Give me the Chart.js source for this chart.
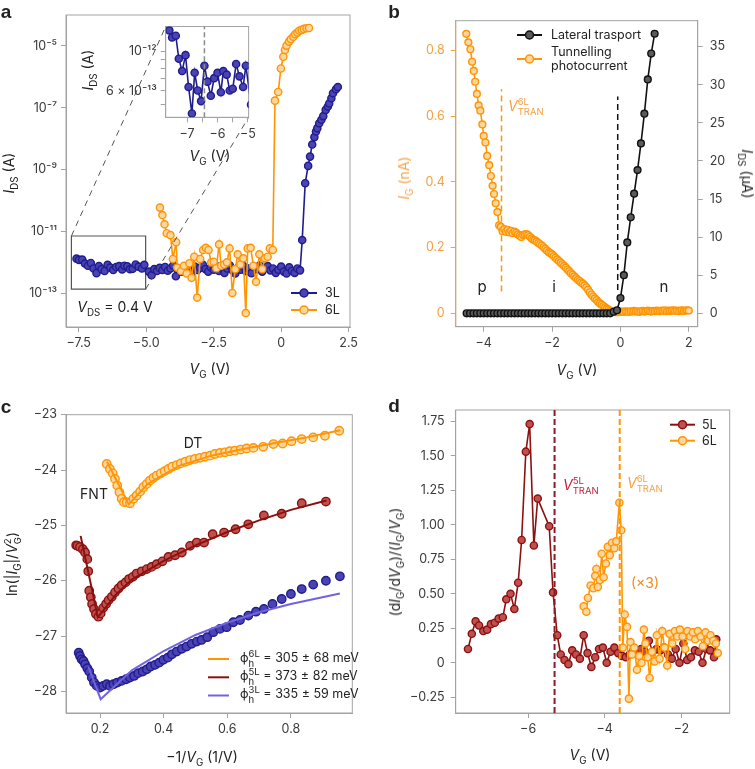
<!DOCTYPE html>
<html>
<head>
<meta charset="utf-8">
<title>Tunnelling photocurrent</title>
<script src="https://cdn.jsdelivr.net/npm/chart.js@4.4.1/dist/chart.umd.min.js"></script>
<style>
  body { margin: 0; background: #fff; }
  #fig { position: relative; width: 755px; height: 769px; overflow: hidden;
         font-family: Inter, "Noto Sans", sans-serif; color: #222; }
  #fig canvas { position: absolute; }
  .t { position: absolute; white-space: nowrap; line-height: 1; font-size: 14px; transform: translate(-50%, -50%); }
  .l { transform: translate(0, -50%); }
  .rot { transform: translate(-50%, -50%) rotate(-90deg); }
  .rotr { transform: translate(-50%, -50%) rotate(90deg); }
  .pl { font: bold 19px "Liberation Sans", Arial, sans-serif; }
  .sm { font-size: 12.5px; }
  sub, sup { font-size: 70%; line-height: 0; }
  .ss { display: inline-block; vertical-align: middle; font-size: 9.5px; line-height: 1.05; text-align: left; font-style: normal; }
</style>
</head>
<body>
<div id="fig">
  <canvas id="pa" width="377" height="384" style="left:0;top:0"></canvas>
  <canvas id="pin" width="160" height="130" style="left:100px;top:15px"></canvas>
  <canvas id="pb" width="378" height="384" style="left:377px;top:0"></canvas>
  <canvas id="pc" width="377" height="385" style="left:0;top:384px"></canvas>
  <canvas id="pd" width="378" height="385" style="left:377px;top:384px"></canvas>

  <div class="t pl" style="left:6px;top:12px">a</div>
  <div class="t pl" style="left:394px;top:12px">b</div>
  <div class="t pl" style="left:6px;top:407px">c</div>
  <div class="t pl" style="left:394px;top:406px">d</div>

  <!-- panel a -->
  <div class="t rot" style="left:9px;top:173px"><i>I</i><sub>DS</sub> (A)</div>
  <div class="t" style="left:210px;top:369px"><i>V</i><sub>G</sub> (V)</div>
  <div class="t rot" style="left:88px;top:70px"><i>I</i><sub>DS</sub> (A)</div>
  <div class="t" style="left:210px;top:156px"><i>V</i><sub>G</sub> (V)</div>
  <div class="t" style="left:115px;top:307px"><i>V</i><sub>DS</sub> = 0.4 V</div>
  <div class="t l sm" style="left:325px;top:293px">3L</div>
  <div class="t l sm" style="left:325px;top:310px">6L</div>

  <!-- panel b -->
  <div class="t rot" style="left:404px;top:178px;color:#f5a142"><i>I</i><sub>G</sub> (nA)</div>
  <div class="t rotr" style="left:747px;top:174px"><i>I</i><sub>DS</sub> (μA)</div>
  <div class="t" style="left:577px;top:370px"><i>V</i><sub>G</sub> (V)</div>
  <div class="t l sm" style="left:551px;top:35px">Lateral trasport</div>
  <div class="t l sm" style="left:551px;top:52px">Tunnelling</div>
  <div class="t l sm" style="left:551px;top:66px">photocurrent</div>
  <div class="t l" style="left:508px;top:107px;color:#f5a142"><i>V</i><span class="ss">6L<br>TRAN</span></div>
  <div class="t" style="left:482px;top:286px;font-size:15px">p</div>
  <div class="t" style="left:554px;top:286px;font-size:15px">i</div>
  <div class="t" style="left:664px;top:286px;font-size:15px">n</div>

  <!-- panel c -->
  <div class="t rot" style="left:13px;top:564px">ln(|<i>I</i><sub>G</sub>|/<i>V</i><span class="ss">2<br>G</span>)</div>
  <div class="t" style="left:202px;top:757px">−1/<i>V</i><sub>G</sub> (1/V)</div>
  <div class="t" style="left:193px;top:443px">DT</div>
  <div class="t" style="left:94px;top:494px">FNT</div>
  <div class="t l sm" style="left:240px;top:659px">ϕ<span class="ss">6L<br>h</span> = 305 ± 68 meV</div>
  <div class="t l sm" style="left:240px;top:677px">ϕ<span class="ss">5L<br>h</span> = 373 ± 82 meV</div>
  <div class="t l sm" style="left:240px;top:695px">ϕ<span class="ss">3L<br>h</span> = 335 ± 59 meV</div>

  <!-- panel d -->
  <div class="t rot" style="left:395px;top:562px">(d<i>I</i><sub>G</sub>/d<i>V</i><sub>G</sub>)/(<i>I</i><sub>G</sub>/<i>V</i><sub>G</sub>)</div>
  <div class="t" style="left:590px;top:755px"><i>V</i><sub>G</sub> (V)</div>
  <div class="t l" style="left:563px;top:486px;color:#c41e3a"><i>V</i><span class="ss">5L<br>TRAN</span></div>
  <div class="t l" style="left:627px;top:484px;color:#f5a142"><i>V</i><span class="ss">6L<br>TRAN</span></div>
  <div class="t" style="left:645px;top:583px;color:#f08a24">(×3)</div>
  <div class="t l sm" style="left:702px;top:425px">5L</div>
  <div class="t l sm" style="left:702px;top:441px">6L</div>
</div>

<script>
// ---------- panel a: transfer curves, log10 of I_DS in A ----------
const vgA3L = [-7.58, -7.49, -7.37, -7.27, -7.16, -7.05, -6.95, -6.84, -6.75, -6.65, -6.54, -6.43, -6.33, -6.22, -6.11,
  -6.00, -5.89, -5.81, -5.70, -5.60, -5.50, -5.39, -5.28, -5.16, -5.07,
  -4.9, -4.8, -4.7, -4.6, -4.5, -4.4, -4.3, -4.2, -4.1, -4.0, -3.9, -3.8, -3.7, -3.6, -3.5, -3.4, -3.3, -3.2, -3.1, -3.0,
  -2.9, -2.8, -2.7, -2.6, -2.5, -2.4, -2.3, -2.2, -2.1, -2.0, -1.9, -1.8, -1.7, -1.6, -1.5, -1.4, -1.3, -1.2, -1.1, -1.0,
  -0.9, -0.8, -0.7, -0.6, -0.5, -0.4, -0.3, -0.2, -0.1, 0.0, 0.1, 0.2, 0.3, 0.4, 0.5, 0.6, 0.7,
  0.78, 0.89, 1.00, 1.07, 1.15, 1.23, 1.29, 1.34, 1.41, 1.49, 1.56, 1.65, 1.73, 1.78, 1.86, 1.92, 2.03, 2.10];
const logIdsA3L = [-11.88, -11.92, -11.91, -12.04, -12.11, -12.02, -12.20, -12.35, -12.12, -12.22, -12.28, -12.08, -12.17, -12.25, -12.15,
  -12.12, -12.23, -12.11, -12.13, -12.22, -12.21, -12.07, -12.14, -12.20, -12.08,
  -12.30, -12.42, -12.22, -12.28, -12.18, -12.25, -12.15, -12.27, -12.20, -12.10, -12.45, -12.22, -12.30, -12.15, -12.26, -12.20, -12.32, -12.14, -12.25, -12.18,
  -12.08, -12.22, -12.30, -12.16, -12.24, -12.12, -12.28, -12.19, -12.34, -12.20, -12.10, -12.26, -12.36, -12.18, -12.24, -12.12, -12.29, -12.20, -12.35, -12.15,
  -12.22, -12.10, -12.30, -12.18, -12.12, -12.26, -12.20, -12.34, -12.24, -12.14, -12.30, -12.36, -12.16, -12.28, -12.34, -12.20, -12.26,
  -11.28, -9.44, -8.88, -8.58, -8.19, -7.95, -7.77, -7.66, -7.50, -7.39, -7.27, -7.07, -6.96, -6.86, -6.69, -6.53, -6.40, -6.33];
const vgA6L = [-4.49, -4.40, -4.32, -4.24, -4.10, -4.01, -3.89, -3.85, -3.71, -3.60, -3.50, -3.40, -3.32, -3.22, -3.11,
  -3.00, -2.89, -2.79, -2.69, -2.59, -2.50, -2.40, -2.30, -2.22, -2.11, -2.01,
  -1.91, -1.81, -1.70, -1.61, -1.51, -1.40, -1.31, -1.24, -1.13, -1.03,
  -0.93, -0.81, -0.70, -0.60, -0.50, -0.42, -0.31,
  -0.23, -0.11, -0.01, 0.08, 0.14, 0.20, 0.29, 0.36, 0.45, 0.52, 0.60, 0.67, 0.76, 0.84, 0.94, 1.03];
const logIdsA6L = [-10.23, -10.47, -10.77, -11.06, -11.12, -11.89, -11.35, -12.17, -12.28, -12.11, -12.36, -12.03, -12.50, -11.82, -13.14,
  -11.89, -11.60, -11.53, -11.60, -12.00, -11.98, -12.19, -11.42, -12.11, -12.07, -12.00,
  -11.55, -12.99, -12.22, -11.74, -12.07, -11.87, -13.64, -11.55, -11.53, -12.11,
  -12.63, -11.74, -12.22, -11.87, -11.82, -11.55, -11.60,
  -6.77, -6.49, -5.73, -5.35, -5.13, -4.99, -4.86, -4.78, -4.70, -4.62, -4.57, -4.51, -4.48, -4.45, -4.43, -4.42];
const zoomVg = [-7.77, -5.02];        // zoomed window shown in the inset
const zoomIds = [7.1e-12, 1.35e-13];
const insetMarkVg = -6.43;

// ---------- panel b: lateral transport (µA) and tunnelling photocurrent (nA) ----------
const vgLat = [-4.5, -4.4, -4.3, -4.2, -4.1, -4.0, -3.9, -3.8, -3.7, -3.6, -3.5, -3.4, -3.3, -3.2, -3.1, -3.0, -2.9, -2.8, -2.7, -2.6,
  -2.5, -2.4, -2.3, -2.2, -2.1, -2.0, -1.9, -1.8, -1.7, -1.6, -1.5, -1.4, -1.3, -1.2, -1.1, -1.0, -0.9, -0.8, -0.7, -0.6,
  -0.5, -0.4, -0.3, -0.2, -0.1, 0.0, 0.1, 0.2, 0.3, 0.4, 0.5, 0.6, 0.7, 0.8, 0.9, 1.0];
const idsLat = [0, 0, 0, 0, 0, 0, 0, 0, 0, 0, 0, 0, 0, 0, 0, 0, 0, 0, 0, 0,
  0, 0, 0, 0, 0, 0, 0, 0, 0, 0, 0, 0, 0, 0, 0, 0, 0, 0, 0, 0,
  0, 0, 0, 0.2, 0.4, 2.0, 5.0, 9.3, 12.6, 15.7, 18.8, 22.3, 26.2, 30.7, 34.1, 36.7];
const vgTun = [-4.51, -4.45, -4.39, -4.34, -4.29, -4.25, -4.20, -4.15, -4.10, -4.04, -4.00, -3.95, -3.90, -3.84, -3.79, -3.74, -3.70, -3.65, -3.60, -3.55, -3.50,
  -3.45, -3.40, -3.35, -3.30, -3.25, -3.20, -3.15, -3.10, -3.05, -3.00, -2.95, -2.90, -2.85, -2.80, -2.75, -2.70, -2.65, -2.60, -2.55, -2.50,
  -2.45, -2.40, -2.35, -2.30, -2.25, -2.20, -2.15, -2.10, -2.05, -2.00, -1.95, -1.90, -1.85, -1.80, -1.75, -1.70, -1.65, -1.60, -1.55, -1.50,
  -1.45, -1.40, -1.35, -1.30, -1.25, -1.20, -1.15, -1.10, -1.05, -1.00, -0.95, -0.90, -0.85, -0.80, -0.75, -0.70, -0.65, -0.60, -0.55, -0.50,
  -0.45, -0.40, -0.35, -0.30, -0.25, -0.20, -0.15, -0.10, -0.05, 0.00, 0.05, 0.10, 0.15, 0.20, 0.25, 0.30, 0.35, 0.40, 0.45, 0.50,
  0.55, 0.60, 0.65, 0.70, 0.75, 0.80, 0.85, 0.90, 0.95, 1.00, 1.05, 1.10, 1.15, 1.20, 1.25, 1.30, 1.35, 1.40, 1.45, 1.50,
  1.55, 1.60, 1.65, 1.70, 1.75, 1.80, 1.85, 1.90, 1.95, 2.00];
const igTun = [0.851, 0.825, 0.804, 0.766, 0.738, 0.705, 0.668, 0.633, 0.617, 0.575, 0.540, 0.520, 0.479, 0.451, 0.418, 0.388, 0.363, 0.335, 0.308, 0.268, 0.263,
  0.250, 0.256, 0.248, 0.254, 0.246, 0.251, 0.244, 0.249, 0.245, 0.240, 0.236, 0.232, 0.238, 0.240, 0.241, 0.238, 0.233, 0.228, 0.224, 0.222,
  0.218, 0.214, 0.210, 0.206, 0.201, 0.196, 0.191, 0.186, 0.183, 0.179, 0.174, 0.169, 0.164, 0.159, 0.154, 0.149, 0.144, 0.139, 0.133, 0.128,
  0.122, 0.117, 0.112, 0.107, 0.102, 0.098, 0.094, 0.090, 0.085, 0.079, 0.072, 0.064, 0.057, 0.051, 0.045, 0.040, 0.034, 0.030, 0.026, 0.022,
  0.018, 0.014, 0.011, 0.008, 0.006, 0.004, 0.003, 0.003, 0.003, 0.004, 0.005, 0.004, 0.006, 0.005, 0.004, 0.006, 0.005, 0.007, 0.005, 0.006,
  0.004, 0.006, 0.007, 0.005, 0.006, 0.008, 0.006, 0.005, 0.007, 0.006, 0.008, 0.007, 0.006, 0.008, 0.007, 0.009, 0.006, 0.008, 0.007, 0.008,
  0.009, 0.007, 0.008, 0.006, 0.008, 0.009, 0.007, 0.008, 0.009, 0.008];
const vTran6Lb = -3.48;
const vOnset = -0.08;

// ---------- panel c: ln(|I_G|/V_G^2) against -1/V_G ----------
const invV6L = [0.221, 0.231, 0.240, 0.247, 0.254, 0.261, 0.268, 0.275, 0.284, 0.294, 0.305, 0.315, 0.326, 0.336, 0.347, 0.357, 0.368, 0.378, 0.391, 0.403,
  0.415, 0.427, 0.441, 0.454, 0.468, 0.483, 0.498, 0.514, 0.530, 0.546, 0.561, 0.577, 0.593, 0.608, 0.624, 0.642, 0.661, 0.682, 0.713, 0.745,
  0.774, 0.802, 0.834, 0.870, 0.907, 0.952];
const ln6L = [-23.89, -23.98, -24.06, -24.16, -24.28, -24.40, -24.52, -24.58, -24.58, -24.60, -24.52, -24.46, -24.39, -24.31, -24.25, -24.19, -24.14, -24.10, -24.06, -24.02,
  -23.98, -23.94, -23.91, -23.88, -23.85, -23.82, -23.80, -23.78, -23.76, -23.74, -23.71, -23.69, -23.68, -23.66, -23.65, -23.63, -23.61, -23.60, -23.58, -23.53,
  -23.52, -23.48, -23.44, -23.41, -23.38, -23.29];
const invV5L = [0.125, 0.129, 0.137, 0.146, 0.153, 0.160, 0.163, 0.166, 0.171, 0.175, 0.181, 0.187, 0.195, 0.202, 0.210, 0.219, 0.227, 0.237, 0.247, 0.258,
  0.268, 0.280, 0.291, 0.303, 0.315, 0.331, 0.347, 0.362, 0.378, 0.396, 0.415, 0.436, 0.457, 0.483, 0.504, 0.527, 0.554, 0.590, 0.626, 0.666,
  0.715, 0.771, 0.834, 0.910];
const ln5L = [-25.36, -25.37, -25.39, -25.43, -25.49, -25.61, -25.83, -26.18, -26.30, -26.42, -26.51, -26.60, -26.65, -26.59, -26.49, -26.42, -26.35, -26.29, -26.21, -26.14,
  -26.08, -26.03, -25.97, -25.93, -25.87, -25.83, -25.79, -25.75, -25.70, -25.65, -25.57, -25.54, -25.49, -25.37, -25.31, -25.31, -25.16, -25.13, -25.07, -24.98,
  -24.82, -24.79, -24.60, -24.57];
const invV3L = [0.133, 0.137, 0.142, 0.148, 0.153, 0.160, 0.166, 0.174, 0.181, 0.190, 0.200, 0.210, 0.221, 0.231, 0.242, 0.254, 0.268, 0.282, 0.294, 0.307,
  0.320, 0.334, 0.347, 0.359, 0.373, 0.386, 0.399, 0.413, 0.426, 0.441, 0.457, 0.472, 0.488, 0.504, 0.519, 0.537, 0.556, 0.577, 0.598, 0.619,
  0.640, 0.666, 0.690, 0.715, 0.742, 0.771, 0.800, 0.834, 0.870, 0.910, 0.954];
const ln3L = [-27.30, -27.36, -27.42, -27.45, -27.51, -27.58, -27.64, -27.75, -27.84, -27.90, -27.93, -27.90, -27.87, -27.90, -27.87, -27.84, -27.81, -27.78, -27.75, -27.72,
  -27.67, -27.64, -27.60, -27.55, -27.52, -27.48, -27.43, -27.39, -27.33, -27.28, -27.23, -27.19, -27.14, -27.10, -27.07, -27.02, -26.93, -26.87, -26.84, -26.75,
  -26.71, -26.63, -26.56, -26.51, -26.42, -26.33, -26.24, -26.15, -26.07, -26.00, -25.92];
const fit6LX = [0.222, 0.290, 0.350, 0.450, 0.550, 0.650, 0.750, 0.850, 0.955];
const fit6LY = [-23.85, -24.62, -24.25, -23.92, -23.74, -23.62, -23.51, -23.41, -23.28];
const fit5LX = [0.139, 0.193, 0.250, 0.300, 0.400, 0.500, 0.600, 0.700, 0.800, 0.912];
const fit5LY = [-25.19, -26.66, -26.25, -25.98, -25.64, -25.36, -25.12, -24.91, -24.72, -24.55];
const fit3LX = [0.163, 0.202, 0.300, 0.400, 0.500, 0.600, 0.700, 0.800, 0.954];
const fit3LY = [-27.55, -28.14, -27.62, -27.27, -26.98, -26.76, -26.57, -26.42, -26.23];

// ---------- panel d: (dI_G/dV_G)/(I_G/V_G) ----------
const vg5L = [-7.57, -7.47, -7.37, -7.28, -7.17, -7.07, -6.97, -6.87, -6.77, -6.66, -6.57, -6.46, -6.36, -6.26, -6.17, -6.06, -5.96, -5.85, -5.75, -5.45,
  -5.35, -5.24, -5.15, -5.05, -4.95, -4.85, -4.75, -4.65, -4.55, -4.45, -4.35, -4.25, -4.15, -4.05, -3.95, -3.85, -3.75, -3.65, -3.55, -3.45,
  -3.35, -3.25, -3.15, -3.05, -2.95, -2.85, -2.75, -2.65, -2.55, -2.45, -2.35, -2.25, -2.15, -2.05, -1.95, -1.85, -1.75, -1.65, -1.55, -1.45,
  -1.35, -1.25, -1.15, -1.09];
const ratio5L = [0.10, 0.21, 0.30, 0.27, 0.23, 0.24, 0.28, 0.29, 0.32, 0.33, 0.46, 0.50, 0.39, 0.58, 0.89, 1.53, 1.73, 0.85, 1.19, 0.99,
  0.51, 0.20, 0.06, 0.02, -0.01, 0.09, 0.06, 0.03, 0.20, 0.07, -0.03, 0.04, 0.10, 0.11, 0.00, 0.08, 0.11, 0.07, 0.05, 0.04,
  0.06, 0.09, 0.07, 0.10, 0.08, 0.16, 0.08, 0.10, 0.09, 0.11, 0.06, 0.03, 0.10, 0.00, 0.14, 0.02, 0.04, 0.09, 0.08, 0.00,
  0.10, 0.09, 0.04, 0.17];
const vg6L = [-4.55, -4.48, -4.44, -4.37, -4.30, -4.25, -4.22, -4.18, -4.13, -4.08, -4.03, -3.97, -3.92, -3.87, -3.81, -3.75, -3.70, -3.62, -3.57, -3.53,
  -3.48, -3.42, -3.37, -3.33, -3.29, -3.23, -3.16, -3.10, -3.04, -2.98, -2.94, -2.88, -2.83, -2.77, -2.70, -2.64, -2.57, -2.50, -2.44, -2.37,
  -2.31, -2.24, -2.17, -2.11, -2.04, -1.97, -1.90, -1.84, -1.77, -1.70, -1.64, -1.57, -1.50, -1.44, -1.37, -1.30, -1.24, -1.17, -1.10, -1.05];
const ratio6L = [0.41, 0.37, 0.47, 0.56, 0.54, 0.63, 0.68, 0.55, 0.60, 0.79, 0.62, 0.72, 0.84, 0.78, 0.87, 0.83, 0.88, 1.16, 0.96, 0.11,
  0.35, 0.26, -0.26, 0.15, 0.06, 0.11, -0.05, 0.05, 0.00, 0.24, 0.14, 0.04, -0.11, 0.08, 0.01, 0.20, 0.03, 0.23, 0.11, -0.02,
  0.21, 0.14, 0.23, 0.19, 0.24, 0.19, 0.10, 0.23, 0.19, 0.22, 0.17, 0.23, 0.19, 0.12, 0.22, 0.16, 0.20, 0.16, 0.14, 0.07];
const vTran5L = -5.31;
const vTran6L = -3.61;

// ---------- styling ----------
const FRAME = '#a3a3a3';
const INK = '#3a3a3a';
const ORANGE = '#ff9500', PEACH = '#fcd6a0', ORANGE_TXT = '#f5a142';
const NAVY = '#1f1c8c', BLUE = '#4a43b6';
const DRED = '#8b1111', RED = '#c0504d';
const FITBLUE = '#7262e0';

Chart.defaults.font.family = 'Inter, "Noto Sans", sans-serif';
Chart.defaults.font.size = 12.5;
Chart.defaults.color = INK;
Chart.defaults.animation = false;
Chart.defaults.events = [];
Chart.defaults.plugins.legend.display = false;
Chart.defaults.plugins.tooltip.enabled = false;

const pts = (xs, ys) => xs.map((x, i) => ({ x, y: ys[i] }));

function axis(o) {
  return {
    type: o.type || 'linear', position: o.pos, min: o.min, max: o.max,
    afterBuildTicks: s => { s.ticks = o.ticks.map(v => ({ value: v })); },
    afterFit: s => { if (s.isHorizontal()) s.height = o.size; else s.width = o.size; },
    grid: { drawOnChartArea: false, tickLength: 5, color: o.tickColor || FRAME, tickColor: o.tickColor || FRAME },
    border: { color: o.borderColor || FRAME },
    ticks: { color: o.color || INK, padding: o.pad || 4, autoSkip: false, maxRotation: 0,
             callback: (v, i) => o.labels[i] }
  };
}

function series(xs, ys, line, fill, r, extra) {
  return Object.assign({
    data: pts(xs, ys), showLine: true, borderColor: line, borderWidth: 1.6,
    pointRadius: r, pointBackgroundColor: fill, pointBorderColor: line, pointBorderWidth: 1.4
  }, extra);
}

function plain(xs, ys, color, width, dash, extra) {
  return Object.assign({
    data: pts(xs, ys), showLine: true, borderColor: color, borderWidth: width,
    borderDash: dash || [], pointRadius: 0
  }, extra);
}

function frame(leftColor) {
  return { id: 'frame', beforeDatasetsDraw(c) {
    const { ctx, chartArea: a } = c;
    ctx.save();
    ctx.lineWidth = 1; ctx.strokeStyle = FRAME;
    ctx.strokeRect(a.left, a.top, a.right - a.left, a.bottom - a.top);
    if (leftColor) {
      ctx.strokeStyle = leftColor;
      ctx.beginPath(); ctx.moveTo(a.left, a.top); ctx.lineTo(a.left, a.bottom); ctx.stroke();
    }
    ctx.restore();
  } };
}

// legend line/marker samples, canvas coordinates
function marks(items) {
  return { id: 'marks', afterDraw(c) {
    const ctx = c.ctx;
    items.forEach(m => {
      ctx.save();
      ctx.strokeStyle = m.line; ctx.lineWidth = 2;
      ctx.beginPath(); ctx.moveTo(m.x0, m.y); ctx.lineTo(m.x1, m.y); ctx.stroke();
      if (m.r) {
        ctx.beginPath(); ctx.arc((m.x0 + m.x1) / 2, m.y, m.r, 0, 2 * Math.PI);
        ctx.fillStyle = m.fill; ctx.fill(); ctx.lineWidth = 1.5; ctx.stroke();
      }
      ctx.restore();
    });
  } };
}

// ---------- inset of panel a ----------
const inset = new Chart(document.getElementById('pin'), {
  type: 'scatter',
  data: { datasets: [
    plain([insetMarkVg, insetMarkVg], [4.25e-13, 1.387e-12], '#8a8a8a', 1.5, [5, 3]),
    series(vgA3L, logIdsA3L.map(v => 10 ** v), NAVY, BLUE, 3.6)
  ] },
  options: {
    responsive: false,
    layout: { padding: { left: 0, top: 8.3, right: 9.3, bottom: 0 } },
    scales: {
      x: axis({ pos: 'bottom', min: -7.70, max: -4.98, ticks: [-7, -6.5, -6, -5.5, -5], labels: ['−7', '', '−6', '', '−5'], size: 27.7 }),
      y: axis({ type: 'logarithmic', pos: 'left', min: 4.25e-13, max: 1.387e-12,
                ticks: [5e-13, 6e-13, 7e-13, 8e-13, 9e-13, 1e-12], labels: ['', '6 × 10⁻¹³', '', '', '', '10⁻¹²'], size: 65.7 })
    }
  },
  plugins: [frame(), { id: 'bg', beforeDraw(c) {
    const a = c.chartArea; c.ctx.save(); c.ctx.fillStyle = '#fff';
    c.ctx.fillRect(a.left, a.top, a.right - a.left, a.bottom - a.top); c.ctx.restore();
  } }]
});

// ---------- panel a ----------
const insetLeft = 100, insetTop = 15;
new Chart(document.getElementById('pa'), {
  type: 'scatter',
  data: { datasets: [
    series(vgA6L, logIdsA6L.map(v => 10 ** v), ORANGE, PEACH, 3.6, { order: 0 }),
    series(vgA3L, logIdsA3L.map(v => 10 ** v), NAVY, BLUE, 3.6, { order: 1 }),
    plain([zoomVg[0], zoomVg[1], zoomVg[1], zoomVg[0], zoomVg[0]],
          [zoomIds[0], zoomIds[0], zoomIds[1], zoomIds[1], zoomIds[0]], '#555', 1.2, [], { order: 2 })
  ] },
  options: {
    responsive: false,
    layout: { padding: { left: 0, top: 15, right: 27, bottom: 0 } },
    scales: {
      x: axis({ pos: 'bottom', min: -7.97, max: 2.55, ticks: [-7.5, -5, -2.5, 0, 2.5], labels: ['−7.5', '−5.0', '−2.5', '0', '2.5'], size: 57 }),
      y: axis({ type: 'logarithmic', pos: 'left', min: 8.1e-15, max: 1e-4,
                ticks: [1e-13, 1e-11, 1e-9, 1e-7, 1e-5], labels: ['10⁻¹³', '10⁻¹¹', '10⁻⁹', '10⁻⁷', '10⁻⁵'], size: 66 })
    }
  },
  plugins: [frame(), marks([
    { x0: 291, x1: 317, y: 293, line: NAVY, fill: BLUE, r: 4 },
    { x0: 291, x1: 317, y: 310, line: ORANGE, fill: PEACH, r: 4 }
  ]), { id: 'zoomLines', afterDraw(c) {
    const ia = inset.chartArea, ctx = c.ctx, sx = c.scales.x, sy = c.scales.y;
    ctx.save();
    ctx.strokeStyle = '#555'; ctx.lineWidth = 1; ctx.setLineDash([6, 5]);
    ctx.beginPath();
    ctx.moveTo(sx.getPixelForValue(zoomVg[0]), sy.getPixelForValue(zoomIds[0]));
    ctx.lineTo(insetLeft + ia.left, insetTop + ia.top);
    ctx.moveTo(sx.getPixelForValue(zoomVg[1]), sy.getPixelForValue(zoomIds[1]));
    ctx.lineTo(insetLeft + ia.right, insetTop + ia.bottom);
    ctx.stroke();
    ctx.restore();
  } }]
});

// ---------- panel b ----------
new Chart(document.getElementById('pb'), {
  type: 'scatter',
  data: { datasets: [
    series(vgLat, idsLat, '#111', '#5a5a5a', 3.4, { yAxisID: 'yR', order: 0 }),
    series(vgTun, igTun, ORANGE, PEACH, 3.4, { yAxisID: 'yL', order: 1 }),
    plain([vTran6Lb, vTran6Lb], [0.066, 0.682], ORANGE, 1.5, [6, 4], { yAxisID: 'yL', order: 2 }),
    plain([vOnset, vOnset], [0.071, 0.66], '#111', 1.5, [6, 4], { yAxisID: 'yL', order: 2 })
  ] },
  options: {
    responsive: false,
    layout: { padding: { left: 0, top: 20.7, right: 0, bottom: 0 } },
    scales: {
      x: axis({ pos: 'bottom', min: -4.82, max: 2.26, ticks: [-4, -2, 0, 2], labels: ['−4', '−2', '0', '2'], size: 57.3 }),
      yL: axis({ pos: 'left', min: -0.041, max: 0.891, ticks: [0, 0.2, 0.4, 0.6, 0.8], labels: ['0', '0.2', '0.4', '0.6', '0.8'],
                 size: 78.7, pad: 6, color: ORANGE_TXT, tickColor: ORANGE_TXT, borderColor: ORANGE_TXT }),
      yR: axis({ pos: 'right', min: -1.76, max: 38.41, ticks: [0, 5, 10, 15, 20, 25, 30, 35],
                 labels: ['0', '5', '10', '15', '20', '25', '30', '35'], size: 57.3, pad: 7 })
    }
  },
  plugins: [frame(ORANGE_TXT), marks([
    { x0: 140, x1: 165, y: 35, line: '#111', fill: '#5a5a5a', r: 4 },
    { x0: 140, x1: 165, y: 59, line: ORANGE, fill: PEACH, r: 4 }
  ])]
});

// ---------- panel c ----------
new Chart(document.getElementById('pc'), {
  type: 'scatter',
  data: { datasets: [
    plain(fit6LX, fit6LY, ORANGE, 2, [], { order: 0 }),
    plain(fit5LX, fit5LY, DRED, 2, [], { order: 0 }),
    plain(fit3LX, fit3LY, FITBLUE, 2, [], { order: 0 }),
    series(invV6L, ln6L, ORANGE, PEACH, 4.2, { showLine: false, order: 1 }),
    series(invV5L, ln5L, DRED, RED, 4.2, { showLine: false, order: 1 }),
    series(invV3L, ln3L, NAVY, BLUE, 4.2, { showLine: false, order: 1 })
  ] },
  options: {
    responsive: false,
    layout: { padding: { left: 0, top: 30.7, right: 24.7, bottom: 0 } },
    scales: {
      x: axis({ pos: 'bottom', min: 0.093, max: 0.993, ticks: [0.2, 0.4, 0.6, 0.8], labels: ['0.2', '0.4', '0.6', '0.8'], size: 56 }),
      y: axis({ pos: 'left', min: -28.39, max: -23, ticks: [-28, -27, -26, -25, -24, -23],
                labels: ['−28', '−27', '−26', '−25', '−24', '−23'], size: 66 })
    }
  },
  plugins: [frame(), marks([
    { x0: 208, x1: 229, y: 275, line: ORANGE },
    { x0: 208, x1: 229, y: 293.3, line: DRED },
    { x0: 208, x1: 229, y: 311.5, line: FITBLUE }
  ])]
});

// ---------- panel d ----------
new Chart(document.getElementById('pd'), {
  type: 'scatter',
  data: { datasets: [
    series(vg6L, ratio6L, ORANGE, PEACH, 3.6, { order: 1 }),
    series(vg5L, ratio5L, DRED, RED, 3.6, { order: 2 }),
    plain([vTran5L, vTran5L], [-0.364, 1.832], '#8b1a2b', 2, [6, 3], { order: 0 }),
    plain([vTran6L, vTran6L], [-0.364, 1.832], ORANGE, 2, [6, 3], { order: 0 })
  ] },
  options: {
    responsive: false,
    layout: { padding: { left: 0, top: 26, right: 25.3, bottom: 0 } },
    scales: {
      x: axis({ pos: 'bottom', min: -7.89, max: -0.74, ticks: [-6, -4, -2], labels: ['−6', '−4', '−2'], size: 56 }),
      y: axis({ pos: 'left', min: -0.364, max: 1.832, ticks: [-0.25, 0, 0.25, 0.5, 0.75, 1, 1.25, 1.5, 1.75],
                labels: ['−0.25', '0', '0.25', '0.50', '0.75', '1.00', '1.25', '1.50', '1.75'], size: 78.7, pad: 6 })
    }
  },
  plugins: [frame(), marks([
    { x0: 293, x1: 318, y: 40.7, line: DRED, fill: RED, r: 4 },
    { x0: 293, x1: 318, y: 56.7, line: ORANGE, fill: PEACH, r: 4 }
  ])]
});
</script>
</body>
</html>
